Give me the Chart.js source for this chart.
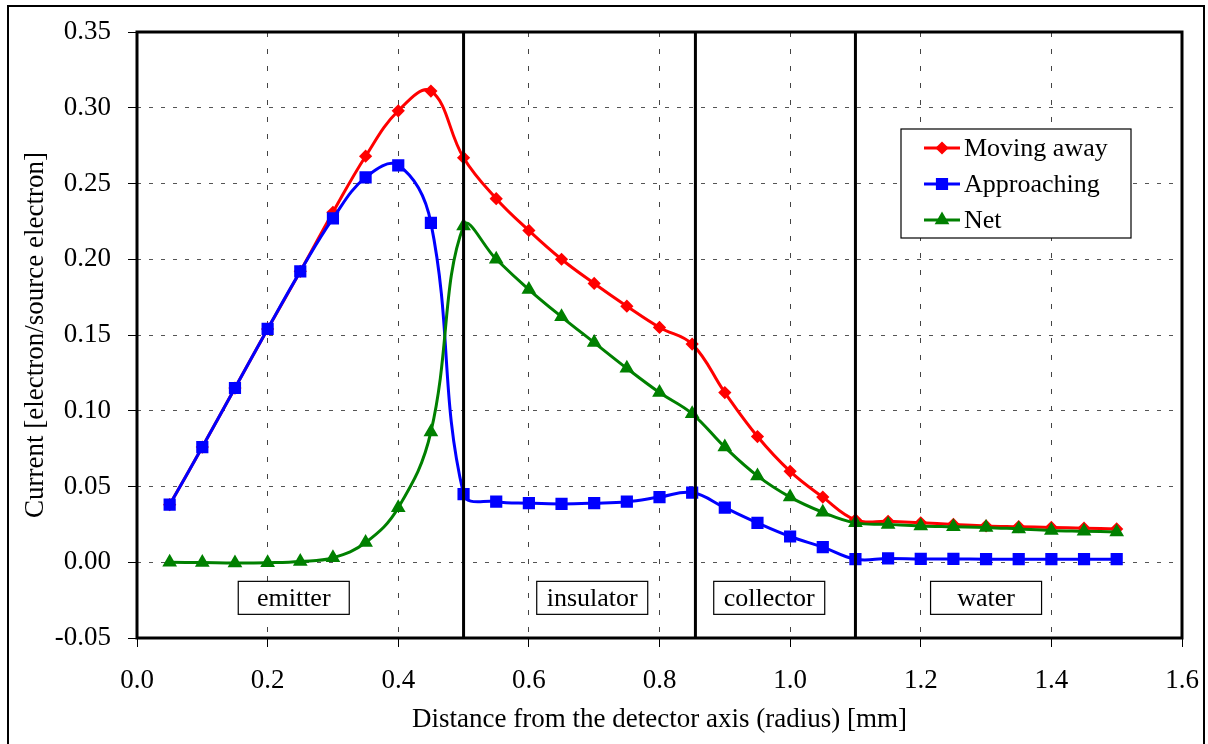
<!DOCTYPE html>
<html>
<head>
<meta charset="utf-8">
<script src="https://cdn.jsdelivr.net/npm/chart.js@4.4.0/dist/chart.umd.min.js"></script>
<style>
  html, body { margin: 0; padding: 0; background: #fff; }
  #wrap { position: relative; width: 1208px; height: 744px; }
</style>
</head>
<body>
<div id="wrap"><canvas id="currentChart" width="1208" height="744"></canvas></div>
<script>
// radius [mm]
const radius = [0.05, 0.10, 0.15, 0.20, 0.25, 0.30, 0.35, 0.40, 0.45, 0.50,
                0.55, 0.60, 0.65, 0.70, 0.75, 0.80, 0.85, 0.90, 0.95, 1.00,
                1.05, 1.10, 1.15, 1.20, 1.25, 1.30, 1.35, 1.40, 1.45, 1.50];

const movingAway = [0.038, 0.076, 0.115, 0.154, 0.192, 0.231, 0.268, 0.298, 0.311, 0.267,
                    0.240, 0.219, 0.200, 0.184, 0.169, 0.155, 0.144, 0.112, 0.083, 0.060,
                    0.043, 0.028, 0.027, 0.026, 0.025, 0.024, 0.0235, 0.023, 0.0225, 0.022];

const approaching = [0.038, 0.076, 0.115, 0.154, 0.192, 0.227, 0.254, 0.262, 0.224, 0.045,
                     0.040, 0.039, 0.0385, 0.039, 0.040, 0.043, 0.046, 0.036, 0.026, 0.017,
                     0.010, 0.002, 0.0025, 0.0022, 0.0022, 0.002, 0.002, 0.002, 0.002, 0.002];

const net = [0.000, -0.0002, -0.0005, -0.0003, 0.0005, 0.003, 0.013, 0.036, 0.086, 0.222,
             0.200, 0.180, 0.162, 0.145, 0.128, 0.112, 0.098, 0.076, 0.057, 0.043,
             0.033, 0.026, 0.025, 0.024, 0.0235, 0.023, 0.022, 0.021, 0.0205, 0.020];

// layer boundaries [mm] and layer names
const boundaries = [0.5, 0.855, 1.1];
const regionNames = ['emitter', 'insulator', 'collector', 'water'];

const FONT = '"Liberation Serif", "Times New Roman", serif';

function toPoints(ys) {
    return radius.map((r, i) => ({ x: r, y: ys[i] }));
}

// frame, layer lines, region labels and legend
const decorations = {
    id: 'decorations',
    beforeDraw(chart) {
        const c = chart.ctx;
        c.save();
        c.fillStyle = '#fff';
        c.fillRect(0, 0, chart.width, chart.height);
        c.strokeStyle = '#000';
        c.lineWidth = 2;
        c.strokeRect(8, 6, 1196, 760);
        c.restore();
    },
    afterDatasetsDraw(chart) {
        const c = chart.ctx;
        const a = chart.chartArea;
        const xs = chart.scales.x, ys = chart.scales.y;
        c.save();
        // layer boundaries
        c.strokeStyle = '#000';
        c.lineWidth = 3;
        boundaries.forEach(b => {
            const px = xs.getPixelForValue(b);
            c.beginPath();
            c.moveTo(px, a.top);
            c.lineTo(px, a.bottom);
            c.stroke();
        });
        // plot frame
        c.lineWidth = 3;
        c.strokeRect(a.left, a.top, a.right - a.left, a.bottom - a.top);

        // region label boxes
        const labelX = [0.24, 0.697, 0.968, 1.30];
        const py = ys.getPixelForValue(-0.0235);
        c.font = '26px ' + FONT;
        c.textAlign = 'center';
        c.textBaseline = 'middle';
        regionNames.forEach((name, i) => {
            const px = xs.getPixelForValue(labelX[i]);
            c.fillStyle = '#fff';
            c.fillRect(px - 55.5, py - 16.5, 111, 33);
            c.lineWidth = 1.2;
            c.strokeStyle = '#000';
            c.strokeRect(px - 55.5, py - 16.5, 111, 33);
            c.fillStyle = '#000';
            c.fillText(name, px, py + 1);
        });

        // legend
        const lx = 901, ly = 129, lw = 230, lh = 109;
        c.fillStyle = '#fff';
        c.fillRect(lx, ly, lw, lh);
        c.lineWidth = 1.2;
        c.strokeStyle = '#000';
        c.strokeRect(lx, ly, lw, lh);
        c.textAlign = 'left';
        chart.data.datasets.forEach((ds, i) => {
            const y = ly + 19 + i * 36;
            c.strokeStyle = ds.borderColor;
            c.lineWidth = 3;
            c.beginPath();
            c.moveTo(lx + 23, y);
            c.lineTo(lx + 59, y);
            c.stroke();
            c.fillStyle = ds.borderColor;
            Chart.helpers.drawPoint(c, {
                pointStyle: ds.pointStyle,
                radius: ds.pointRadius,
                rotation: 0,
                borderWidth: 1
            }, lx + 41, y);
            c.fillStyle = '#000';
            c.fillText(ds.label, lx + 63, y + 1);
        });
        c.restore();
    }
};

const ctx = document.getElementById('currentChart').getContext('2d');

const current_chart = new Chart(ctx, {
    type: 'line',
    data: {
        datasets: [{
            label: 'Moving away',
            data: toPoints(movingAway),
            borderColor: '#ff0000',
            backgroundColor: '#ff0000',
            pointStyle: 'rectRot',
            pointRadius: 4.5,
            borderWidth: 3,
            tension: 0.4,
            order: 3
        }, {
            label: 'Approaching',
            data: toPoints(approaching),
            borderColor: '#0000ff',
            backgroundColor: '#0000ff',
            pointStyle: 'rect',
            pointRadius: 6.5,
            borderWidth: 3,
            tension: 0.4,
            order: 2
        }, {
            label: 'Net',
            data: toPoints(net),
            borderColor: '#008000',
            backgroundColor: '#008000',
            pointStyle: 'triangle',
            pointRadius: 5.5,
            borderWidth: 3,
            tension: 0.4,
            order: 1
        }]
    },
    options: {
        responsive: false,
        animation: false,
        events: [],
        layout: { padding: { left: 0, top: 32, right: 26, bottom: 0 } },
        plugins: {
            legend: { display: false },
            tooltip: { enabled: false }
        },
        scales: {
            x: {
                type: 'linear',
                min: 0,
                max: 1.6,
                ticks: {
                    stepSize: 0.2,
                    color: '#000',
                    padding: 18,
                    font: { family: FONT, size: 27 },
                    callback: v => v.toFixed(1)
                },
                grid: {
                    color: '#444',
                    lineWidth: 1,
                    tickColor: '#000',
                    tickBorderDash: [],
                    tickLength: 9
                },
                border: { display: false, dash: [5, 12] },
                title: {
                    display: true,
                    text: 'Distance from the detector axis (radius) [mm]',
                    color: '#000',
                    font: { family: FONT, size: 27 },
                    padding: { top: 0, bottom: 8 }
                },
                afterFit(scale) {
                    scale.height = 106;
                    scale.paddingLeft = 0;
                    scale.paddingRight = 0;
                }
            },
            y: {
                type: 'linear',
                min: -0.05,
                max: 0.35,
                ticks: {
                    stepSize: 0.05,
                    color: '#000',
                    padding: 17,
                    font: { family: FONT, size: 27 },
                    callback: v => (Math.abs(v) < 1e-9 ? 0 : v).toFixed(2)
                },
                grid: {
                    color: '#555',
                    lineWidth: 1,
                    tickColor: '#000',
                    tickBorderDash: [],
                    tickLength: 9
                },
                border: { display: false, dash: [4, 8] },
                title: {
                    display: true,
                    text: 'Current [electron/source electron]',
                    color: '#000',
                    font: { family: FONT, size: 27 },
                    padding: { top: 20, bottom: 0 }
                },
                afterFit(scale) {
                    scale.width = 137;
                    scale.paddingTop = 0;
                    scale.paddingBottom = 0;
                }
            }
        }
    },
    plugins: [decorations]
});
</script>
</body>
</html>
